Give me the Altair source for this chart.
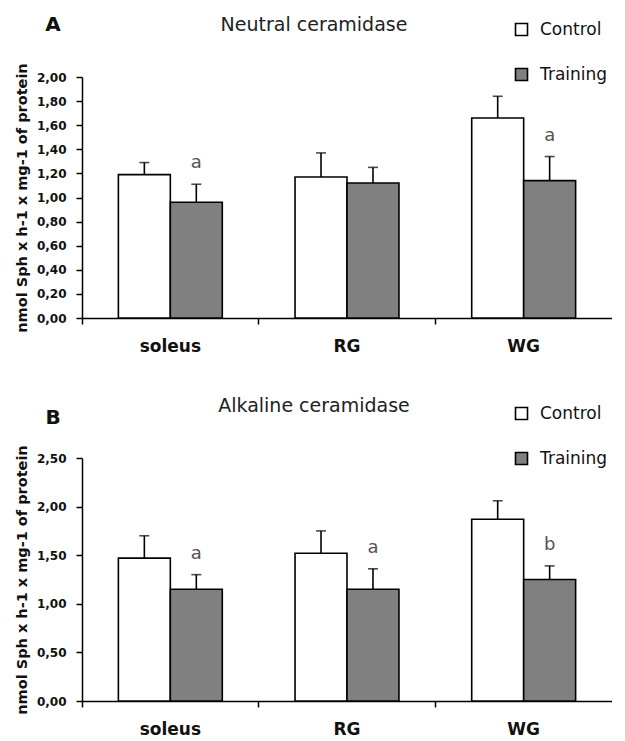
import altair as alt
import pandas as pd

muscles = ["soleus", "RG", "WG"]
groups = ["Control", "Training"]

neutral_control = [1.19, 1.17, 1.66]
neutral_control_err = [0.10, 0.20, 0.18]
neutral_training = [0.96, 1.12, 1.14]
neutral_training_err = [0.15, 0.13, 0.20]
neutral_letters = ["a", "", "a"]
neutral_ticks = [0.0, 0.2, 0.4, 0.6, 0.8, 1.0, 1.2, 1.4, 1.6, 1.8, 2.0]

alkaline_control = [1.47, 1.52, 1.87]
alkaline_control_err = [0.23, 0.23, 0.19]
alkaline_training = [1.15, 1.15, 1.25]
alkaline_training_err = [0.15, 0.21, 0.14]
alkaline_letters = ["a", "a", "b"]
alkaline_ticks = [0.0, 0.5, 1.0, 1.5, 2.0, 2.5]

FONT = "DejaVu Sans"
W = 530
YTITLE = "nmol Sph x h-1 x mg-1 of protein"


def panel(letter, title, ctrl, ctrl_err, trn, trn_err, letters, ticks, ymax,
          height, letter_y, title_y, legend_y):
    rows = []
    for i, m in enumerate(muscles):
        rows.append({"muscle": m, "group": "Control", "value": ctrl[i],
                     "top": ctrl[i] + ctrl_err[i], "letter": ""})
        rows.append({"muscle": m, "group": "Training", "value": trn[i],
                     "top": trn[i] + trn_err[i], "letter": letters[i]})
    df = pd.DataFrame(rows)
    x = alt.X("muscle:N", sort=muscles,
              scale=alt.Scale(paddingInner=0, paddingOuter=0),
              axis=alt.Axis(title=None, bandPosition=0,
                            labelAngle=0, labelFontSize=17, labelFontWeight="bold",
                            labelFont=FONT, labelColor="#111", labelPadding=14,
                            tickSize=6, tickWidth=1.5, domainWidth=1.5,
                            domainColor="black", tickColor="black"))
    xo = alt.XOffset("group:N", sort=groups,
                     scale=alt.Scale(paddingInner=0, paddingOuter=0.70))
    y = alt.Y("value:Q", scale=alt.Scale(domain=[0, ymax], nice=False, zero=True),
              axis=alt.Axis(title=YTITLE, values=ticks, tickCount=len(ticks),
                            grid=False, labelOverlap=False,
                            labelExpr="replace(format(datum.value, '.2f'), '.', ',')",
                            labelFontSize=12, labelFontWeight="bold", labelFont=FONT,
                            labelColor="#111", titleFont=FONT, titleFontSize=14.5,
                            titleFontWeight="bold", titleColor="#111", titlePadding=7,
                            tickSize=6, tickWidth=1.5, domainWidth=1.5,
                            domainColor="black", tickColor="black", labelPadding=10))
    base = alt.Chart(df)
    bars = base.mark_bar(stroke="black", strokeWidth=1.6).encode(
        x=x, xOffset=xo, y=y,
        fill=alt.Fill("group:N", sort=groups,
                      scale=alt.Scale(domain=groups, range=["white", "#808080"]),
                      legend=alt.Legend(title=None, orient="none", legendX=431,
                                        legendY=legend_y, direction="vertical",
                                        symbolType="square", symbolSize=144,
                                        symbolStrokeColor="black",
                                        symbolStrokeWidth=1.6, labelFont=FONT,
                                        labelFontSize=17, labelColor="#111",
                                        rowPadding=26, labelOffset=10)))
    rules = base.mark_rule(color="black", strokeWidth=1.6).encode(
        x=x, xOffset=xo, y="value:Q", y2="top:Q")
    caps = base.mark_tick(color="black", thickness=1.6, size=10,
                          orient="horizontal").encode(x=x, xOffset=xo, y="top:Q")
    letters_t = base.mark_text(dy=-21, fontSize=18, color="#555", font=FONT).encode(
        x=x, xOffset=xo, y="top:Q", text="letter:N")
    lab = alt.Chart(pd.DataFrame({"t": [letter]})).mark_text(
        fontSize=20, fontWeight="bold", font=FONT, color="#111").encode(
        x=alt.value(-29), y=alt.value(letter_y), text="t:N")
    ttl = alt.Chart(pd.DataFrame({"t": [title]})).mark_text(
        fontSize=19, font=FONT, color="#222").encode(
        x=alt.value(232), y=alt.value(title_y), text="t:N")
    return alt.layer(bars, rules, caps, letters_t, lab, ttl).properties(
        width=W, height=height)


a = panel("A", "Neutral ceramidase", neutral_control, neutral_control_err,
          neutral_training, neutral_training_err, neutral_letters,
          neutral_ticks, 2.0, 241, -52, -52, -56)
b = panel("B", "Alkaline ceramidase", alkaline_control, alkaline_control_err,
          alkaline_training, alkaline_training_err, alkaline_letters,
          alkaline_ticks, 2.5, 243, -40, -52, -53)

chart = alt.vconcat(a, b, spacing=43).resolve_scale(
    x="independent", y="independent", fill="independent").resolve_legend(
    fill="independent").configure_view(stroke=None).properties(
    padding={"left": 6, "right": 0, "top": 7, "bottom": 2})

chart.save("out.html", embed_options={"renderer": "svg", "actions": False})
